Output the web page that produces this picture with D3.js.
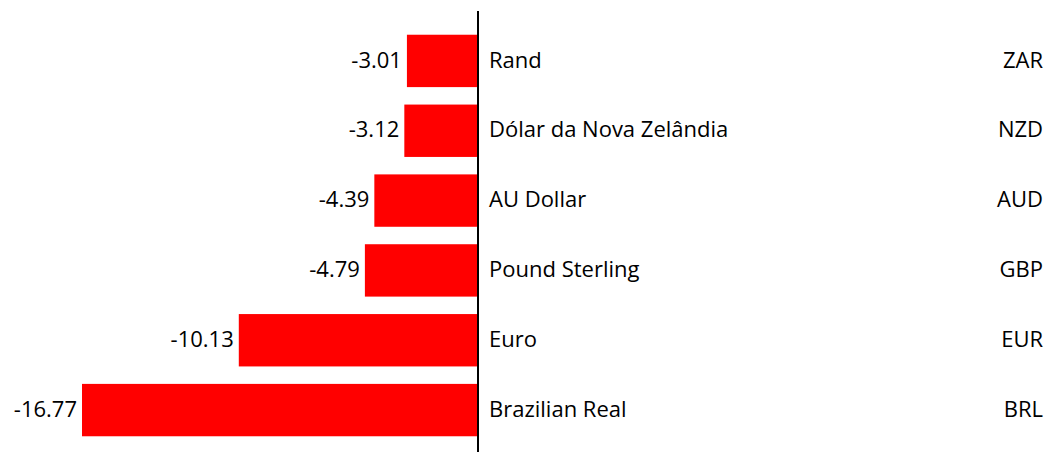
<!DOCTYPE html>
<html>
<head>
<meta charset="utf-8">
<script src="https://cdn.jsdelivr.net/npm/d3@7"></script>
<style>
  body { margin: 0; background: #fff; }
  text { font-family: "Open Sans", "Noto Sans", sans-serif; font-size: 22px; fill: #000; }
</style>
</head>
<body>
<div id="chart"></div>
<script>
// currency data, top to bottom
const names = ["Rand", "Dólar da Nova Zelândia", "AU Dollar", "Pound Sterling", "Euro", "Brazilian Real"];
const codes = ["ZAR", "NZD", "AUD", "GBP", "EUR", "BRL"];
const values = [-3.01, -3.12, -4.39, -4.79, -10.13, -16.77];

const width = 1046, height = 452;

const svg = d3.select("#chart").append("svg")
    .attr("width", width)
    .attr("height", height);

// x scale: most negative value at left, zero at the axis line
const x = d3.scaleLinear()
    .domain([d3.min(values), 0])
    .range([82, 478]);

const y = d3.scaleBand()
    .domain(codes)
    .range([26, 445])
    .paddingInner(0.25)
    .paddingOuter(0.125);

const rows = codes.map((c, i) => ({code: c, name: names[i], value: values[i]}));

svg.selectAll(".bar")
    .data(rows)
    .enter().append("rect")
    .attr("class", "bar")
    .attr("x", d => x(d.value))
    .attr("y", d => y(d.code))
    .attr("width", d => x(0) - x(d.value))
    .attr("height", y.bandwidth())
    .style("fill", "#ff0000");

// zero line
svg.append("line")
    .attr("x1", x(0))
    .attr("x2", x(0))
    .attr("y1", 11)
    .attr("y2", height)
    .attr("stroke", "#000")
    .attr("stroke-width", 2);

const mid = d => y(d.code) + y.bandwidth() / 2 - 1;

// value labels
svg.selectAll(".val")
    .data(rows)
    .enter().append("text")
    .attr("class", "val")
    .attr("x", d => x(d.value) - 5)
    .attr("y", mid)
    .attr("dy", ".35em")
    .style("text-anchor", "end")
    .text(d => d.value.toFixed(2));

// currency names
svg.selectAll(".name")
    .data(rows)
    .enter().append("text")
    .attr("class", "name")
    .attr("x", x(0) + 11)
    .attr("y", mid)
    .attr("dy", ".35em")
    .text(d => d.name);

// currency codes on the right
svg.selectAll(".code")
    .data(rows)
    .enter().append("text")
    .attr("class", "code")
    .attr("x", 1043)
    .attr("y", mid)
    .attr("dy", ".35em")
    .style("text-anchor", "end")
    .text(d => d.code);
</script>
</body>
</html>
